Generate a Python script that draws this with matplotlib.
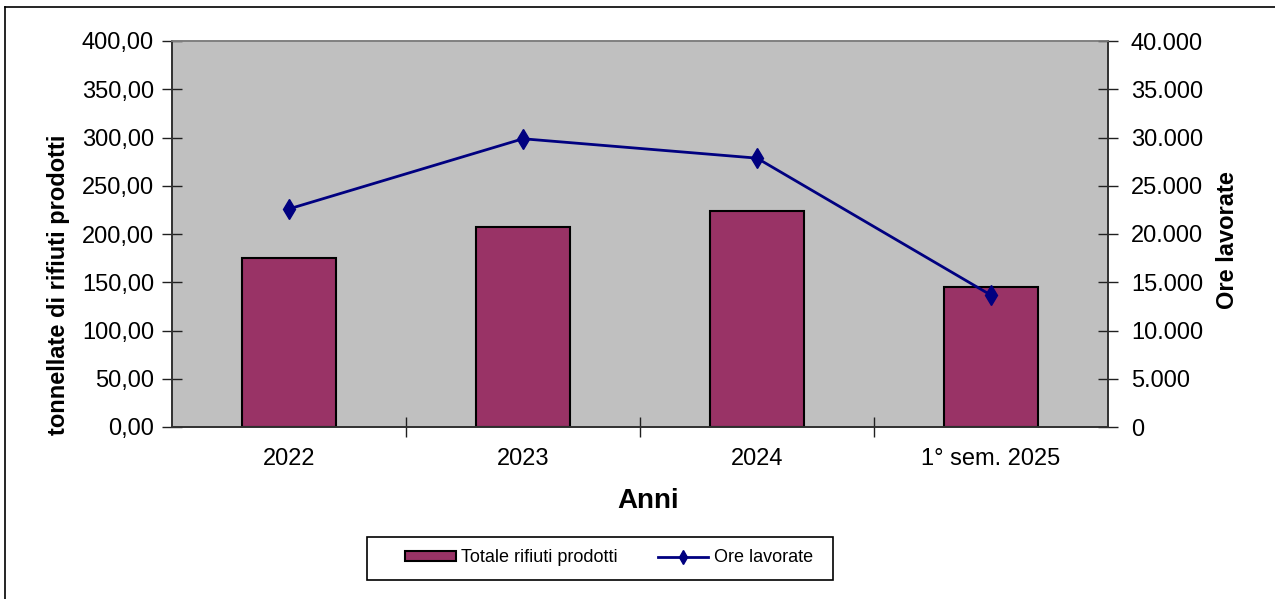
import matplotlib
matplotlib.use('Agg')
import matplotlib.pyplot as plt
from matplotlib.ticker import FuncFormatter, FixedLocator
from matplotlib.patches import Rectangle
from matplotlib.lines import Line2D

plt.rcParams['font.family'] = ['Liberation Sans', 'DejaVu Sans']

# data
anni = ['2022', '2023', '2024', '1° sem. 2025']
rifiuti = [175.3, 207.4, 223.7, 145.2]      # tonnellate
ore = [22600, 29870, 27860, 13660]          # ore lavorate

W, H = 1275, 599
fig = plt.figure(figsize=(W/100, H/100), dpi=100)
fig.patch.set_facecolor('white')

ax = fig.add_axes([172/W, 1-427/H, 936/W, 386/H])
ax.set_facecolor('#C0C0C0')
x = range(len(anni))
bars = ax.bar(x, rifiuti, width=0.4, color='#993366', edgecolor='black',
              linewidth=1.5, label='Totale rifiuti prodotti', zorder=2)
ax.set_xlim(-0.5, len(anni)-0.5)
ax.set_ylim(0, 400)
ax.set_yticks(range(0, 401, 50))
ax.yaxis.set_major_formatter(FuncFormatter(lambda v, p: ('%.2f' % v).replace('.', ',')))

# category ticks at boundaries, labels at centres
ax.xaxis.set_major_locator(FixedLocator([0.5, 1.5, 2.5]))
ax.xaxis.set_minor_locator(FixedLocator(list(x)))
ax.xaxis.set_major_formatter(FuncFormatter(lambda v, p: ''))
ax.xaxis.set_minor_formatter(FuncFormatter(lambda v, p: anni[int(round(v))]))
ax.tick_params(axis='x', which='major', direction='inout', length=15, width=1, color='#202020')
ax.tick_params(axis='x', which='minor', length=0, pad=15, labelsize=17)
ax.tick_params(axis='y', direction='inout', length=15, width=1, color='#202020',
               labelsize=17, pad=5.5)

ax2 = ax.twinx()
ax2.plot(list(x), ore, color='#000080', linewidth=2, marker='d', markersize=10,
         label='Ore lavorate', zorder=3)
ax2.set_ylim(0, 40000)
ax2.set_yticks(range(0, 40001, 5000))
ax2.yaxis.set_major_formatter(FuncFormatter(lambda v, p: '{:,.0f}'.format(v).replace(',', '.')))
ax2.tick_params(axis='y', direction='inout', length=15, width=1, color='#202020',
                labelsize=17, pad=9)

for a in (ax, ax2):
    a.spines['top'].set_color('#808080')
    a.spines['left'].set_color('#303030')
    a.spines['right'].set_color('#303030')
    a.spines['bottom'].set_color('#303030')
    for s in a.spines.values():
        s.set_linewidth(1.2)

fig.text(59/W, 1-285/H, 'tonnellate di rifiuti prodotti', rotation=90, fontsize=17,
         fontweight='bold', ha='center', va='center')
fig.text(1228/W, 1-240/H, 'Ore lavorate', rotation=90, fontsize=17,
         fontweight='bold', ha='center', va='center')
fig.text(648/W, 1-501/H, 'Anni', fontsize=20, fontweight='bold', ha='center', va='center')

# legend box
fig.patches.append(Rectangle((367/W, 1-580/H), 466/W, 43/H, transform=fig.transFigure,
                             facecolor='white', edgecolor='black', linewidth=1.2))
h1, l1 = ax.get_legend_handles_labels()
h2, l2 = ax2.get_legend_handles_labels()
fig.legend(h1 + h2, l1 + l2, loc='center', bbox_to_anchor=(609/W, 1-558/H), ncol=2,
           frameon=False, fontsize=13, handlelength=2.8, handleheight=0.45,
           handletextpad=0.3, columnspacing=2.2, markerscale=0.7)

# outer chart border
fig.add_artist(Line2D([5/W, 5/W], [0, 1-7/H], color='black', linewidth=1.2))
fig.add_artist(Line2D([5/W, 1], [1-7/H, 1-7/H], color='black', linewidth=1.2))

fig.savefig('out.png', dpi=100)
